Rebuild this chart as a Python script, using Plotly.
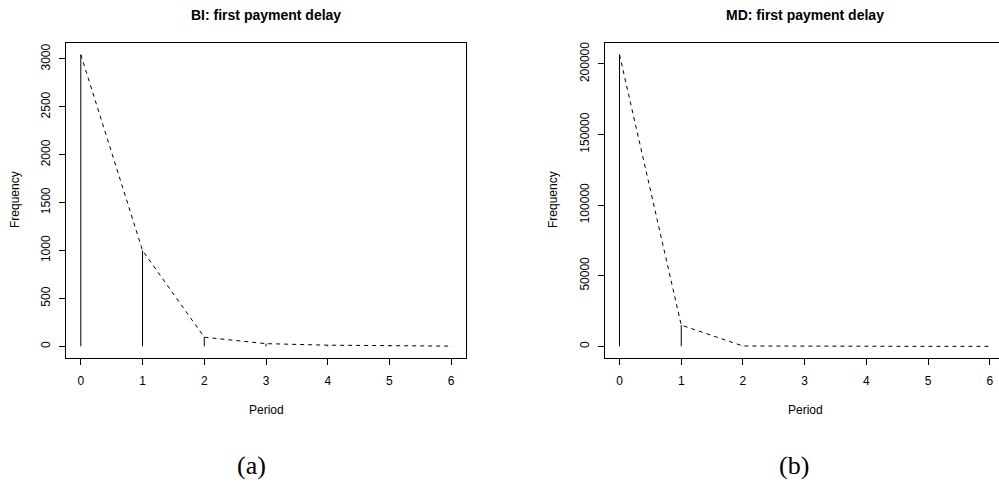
import plotly.graph_objects as go

W, H = 999, 482

periods = [0, 1, 2, 3, 4, 5, 6]
bi_freq = [3045, 1000, 95, 28, 12, 5, 2]
md_freq = [206500, 15000, 250, 50, 12, 5, 2]

bi_title = "BI: first payment delay"
md_title = "MD: first payment delay"
x_label = "Period"
y_label = "Frequency"
bi_ticks = [0, 500, 1000, 1500, 2000, 2500, 3000]
md_ticks = [0, 50000, 100000, 150000, 200000]
x_ticks = [0, 1, 2, 3, 4, 5, 6]
sub_labels = ["(a)", "(b)"]

def px_x(p):
    return p / W

def px_y(p):
    return 1 - p / H

def spikes(xs, ys):
    sx, sy = [], []
    for a, b in zip(xs, ys):
        sx += [a, a, None]
        sy += [0, b, None]
    return sx, sy

fig = go.Figure()
for i, (vals, xa, ya) in enumerate([(bi_freq, "x", "y"), (md_freq, "x2", "y2")]):
    sx, sy = spikes(periods, vals)
    fig.add_trace(go.Scatter(x=sx, y=sy, mode="lines", xaxis=xa, yaxis=ya,
                             line=dict(color="black", width=1), showlegend=False,
                             hoverinfo="skip"))
    fig.add_trace(go.Scatter(x=periods, y=vals, mode="lines", xaxis=xa, yaxis=ya,
                             line=dict(color="black", width=1, dash="4px,4px"),
                             showlegend=False))

font = dict(family="Liberation Sans, Arial, sans-serif", size=12, color="black")
ytop, ybot = 43, 358
ydom = [px_y(ybot), px_y(ytop)]

common_ax = dict(showgrid=False, zeroline=False, showline=True,
                 linecolor="black", linewidth=1, ticks="outside", ticklen=6,
                 tickwidth=1, tickcolor="black", tickfont=font)

fig.update_layout(
    width=W, height=H, margin=dict(l=0, r=0, t=0, b=0),
    paper_bgcolor="white", plot_bgcolor="white",
    xaxis=dict(domain=[px_x(66), px_x(466)], range=[-0.24, 6.24], anchor="y",
               tickvals=x_ticks, ticklabelstandoff=6, mirror=True, **common_ax),
    yaxis=dict(domain=ydom, range=[-121.8, 3166.8], anchor="x",
               tickvals=bi_ticks, tickformat="d", tickangle=-90,
               ticklabelstandoff=4, mirror=True, **common_ax),
    xaxis2=dict(domain=[px_x(604.7), 1.0], range=[-0.24, 6.148], anchor="y2",
                tickvals=x_ticks, ticklabelstandoff=6, mirror=True, **common_ax),
    yaxis2=dict(domain=ydom, range=[-8260, 214760], anchor="x2",
                tickvals=md_ticks, tickformat="d", tickangle=-90,
                ticklabelstandoff=4, mirror=False, **common_ax),
)

ann = []
for title, cx in [(bi_title, 266), (md_title, 805)]:
    ann.append(dict(text="<b>%s</b>" % title, x=px_x(cx), y=px_y(15), xref="paper",
                    yref="paper", showarrow=False, xanchor="center", yanchor="middle",
                    font=dict(family="Liberation Sans, Arial, sans-serif", size=14,
                              color="black")))
for cx in [266, 805]:
    ann.append(dict(text=x_label, x=px_x(cx), y=px_y(410), xref="paper", yref="paper",
                    showarrow=False, xanchor="center", yanchor="middle", font=font))
for cx in [15, 553]:
    ann.append(dict(text=y_label, x=px_x(cx), y=px_y(200), xref="paper", yref="paper",
                    showarrow=False, xanchor="center", yanchor="middle", textangle=-90,
                    font=font))
for lab, cx in zip(sub_labels, [251, 794]):
    ann.append(dict(text=lab, x=px_x(cx), y=px_y(465), xref="paper", yref="paper",
                    showarrow=False, xanchor="center", yanchor="middle",
                    font=dict(family="Liberation Serif, Times New Roman, serif", size=26,
                              color="black")))
fig.update_layout(annotations=ann)

fig.write_html("out.html")
